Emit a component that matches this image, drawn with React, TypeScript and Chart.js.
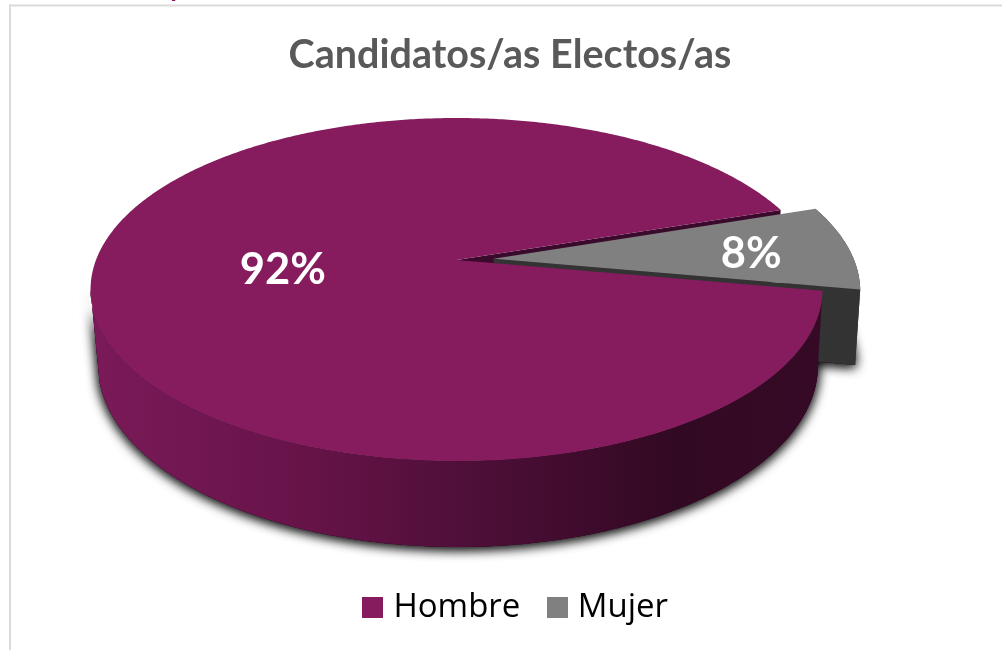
import React, { useEffect, useRef } from "react";
import { Chart, registerables } from "chart.js";

Chart.register(...registerables);

const categories = ["Hombre", "Mujer"];
const values = [92, 8];
const topColors = ["#861C5E", "#808080"];
const chartTitle = "Candidatos/as Electos/as";
const explode = [0, 23];
const labelRadius = [0.48, 0.725];

// Perspective projection of the pie's unit circle onto the picture.
const K = -0.172;
const TOP = { cx: 456.5, R: 360.5, A: 121.7, B: 260 };
const BASE = { cx: 458, R: 354.6, A: 119.2, B: 333.7 };
type Surf = typeof TOP;
const proj = (s: Surf, u: number, v: number): [number, number] => {
  const w = 1 + K * v;
  return [s.cx + (s.R * u) / w, (s.A * v + s.B) / w];
};
const DEG = Math.PI / 180;

const swatch = (color: string) => {
  const c = document.createElement("canvas");
  c.width = 21;
  c.height = 21;
  const g = c.getContext("2d")!;
  g.fillStyle = color;
  g.fillRect(0, 0, 21, 21);
  return c;
};

const ringPts = (s: Surf, a0: number, a1: number, ou: number, ov: number) => {
  const n = Math.max(2, Math.ceil(Math.abs(a1 - a0) / 0.01));
  const pts: [number, number][] = [];
  for (let i = 0; i <= n; i++) {
    const t = a0 + ((a1 - a0) * i) / n;
    pts.push(proj(s, Math.cos(t) + ou, Math.sin(t) + ov));
  }
  return pts;
};
const poly = (ctx: CanvasRenderingContext2D, pts: [number, number][]) => {
  ctx.beginPath();
  pts.forEach((p, i) => (i ? ctx.lineTo(p[0], p[1]) : ctx.moveTo(p[0], p[1])));
  ctx.closePath();
};

const pie3d = {
  id: "pie3d",
  beforeDraw(chart: any) {
    const ctx = chart.ctx;
    ctx.save();
    ctx.fillStyle = "#fff";
    ctx.fillRect(0, 0, chart.width, chart.height);
    ctx.fillStyle = "#DADADA";
    ctx.fillRect(9, 4.5, chart.width, 2);
    ctx.fillRect(9, 4.5, 2, chart.height);
    ctx.fillStyle = "#861C5E";
    ctx.font = "bold 27px Lato";
    ctx.textAlign = "center";
    ctx.textBaseline = "alphabetic";
    ctx.fillText("p", 178, -3);
    ctx.restore();
  },
  afterLayout(chart: any) {
    chart.legend.left += 8.5;
    chart.legend.right += 8.5;
  },
  beforeDatasetsDraw(chart: any) {
    const ctx: CanvasRenderingContext2D = chart.ctx;
    const arcs = chart.getDatasetMeta(0).data;
    const [h, m] = arcs;
    const mid = (m.startAngle + m.endAngle) / 2;
    const off = m.options.offset / m.outerRadius;
    const ou = off * Math.cos(mid);
    const ov = off * Math.sin(mid);

    const hTop = [[...proj(TOP, 0, 0)] as [number, number], ...ringPts(TOP, h.startAngle, h.endAngle, 0, 0)];
    const mTop = [[...proj(TOP, ou, ov)] as [number, number], ...ringPts(TOP, m.startAngle, m.endAngle, ou, ov)];
    const mBase = [[...proj(BASE, ou, ov)] as [number, number], ...ringPts(BASE, m.startAngle, m.endAngle, ou, ov)];
    // the wall's outline: the top rim to its left-most point, the base rim from its tangent point
    const wall = [...ringPts(TOP, h.startAngle, 170 * DEG, 0, 0), ...ringPts(BASE, 165 * DEG, h.startAngle, 0, 0)];

    ctx.save();
    // soft shadow under the base
    ctx.shadowColor = "rgba(0,0,0,0.8)";
    ctx.shadowBlur = 12;
    ctx.shadowOffsetY = 2;
    ctx.fillStyle = "#3a0a2c";
    for (let i = 0; i < 2; i++) {
      poly(ctx, wall);
      ctx.fill();
      poly(ctx, mBase);
      ctx.fill();
    }
    ctx.shadowColor = "transparent";
    ctx.shadowBlur = 0;
    ctx.shadowOffsetY = 0;

    // upper cut face of the large slice
    ctx.fillStyle = "#3A0A2C";
    poly(ctx, [proj(TOP, 0, 0), proj(TOP, Math.cos(h.endAngle), Math.sin(h.endAngle)), proj(BASE, Math.cos(h.endAngle), Math.sin(h.endAngle)), proj(BASE, 0, 0)]);
    ctx.fill();

    // exploded slice
    const dark = "#333333";
    ctx.fillStyle = dark;
    const e = m.endAngle;
    poly(ctx, [proj(TOP, ou, ov), proj(TOP, Math.cos(e) + ou, Math.sin(e) + ov), proj(BASE, Math.cos(e) + ou, Math.sin(e) + ov), proj(BASE, ou, ov)]);
    ctx.fill();
    poly(ctx, [...ringPts(TOP, m.startAngle, m.endAngle, ou, ov), ...ringPts(BASE, m.endAngle, m.startAngle, ou, ov)]);
    ctx.fill();
    ctx.fillStyle = m.options.backgroundColor;
    poly(ctx, mTop);
    ctx.fill();

    // front wall of the large slice
    const g = ctx.createLinearGradient(95, 0, 820, 0);
    g.addColorStop(0, "#7A1A58");
    g.addColorStop(0.3, "#661348");
    g.addColorStop(0.5, "#500F3A");
    g.addColorStop(0.8, "#320922");
    g.addColorStop(1, "#360A26");
    ctx.fillStyle = g;
    poly(ctx, wall);
    ctx.fill();

    ctx.fillStyle = h.options.backgroundColor;
    poly(ctx, hTop);
    ctx.fill();
    ctx.restore();
    return false;
  },
  afterDraw(chart: any) {
    const ctx: CanvasRenderingContext2D = chart.ctx;
    const arcs = chart.getDatasetMeta(0).data;
    const total = values.reduce((a, b) => a + b, 0);
    ctx.save();
    ctx.fillStyle = "#fff";
    ctx.font = "bold 43.5px Lato";
    ctx.textAlign = "center";
    ctx.textBaseline = "middle";
    arcs.forEach((a: any, i: number) => {
      const mid = (a.startAngle + a.endAngle) / 2;
      const off = a.options.offset / a.outerRadius;
      const r = labelRadius[i] + off;
      const [x, y] = proj(TOP, r * Math.cos(mid), r * Math.sin(mid));
      ctx.fillText(`${Math.round((values[i] / total) * 100)}%`, x, y + 4);
    });
    ctx.restore();
  },
};

export default function App() {
  const ref = useRef<HTMLCanvasElement>(null);
  useEffect(() => {
    const chart = new Chart(ref.current!, {
      type: "pie",
      data: {
        labels: categories,
        datasets: [
          {
            data: values,
            backgroundColor: topColors,
            borderWidth: 0,
            offset: explode,
          },
        ],
      },
      options: {
        responsive: false,
        animation: false,
        rotation: 100.3,
        layout: { padding: { left: 18, right: 0, top: 0, bottom: 16 } },
        plugins: {
          tooltip: { enabled: false },
          title: {
            display: true,
            text: chartTitle,
            color: "#595959",
            font: { family: "Lato", size: 39.5, weight: "bold" },
            padding: { top: 32, bottom: 10 },
          },
          legend: {
            position: "bottom",
            labels: {
              color: "#1A1A1A",
              font: { family: "'Open Sans'", size: 33 },
              usePointStyle: true,
              pointStyleWidth: 8,
              padding: 33,
              generateLabels: () =>
                categories.map((text, i) => ({
                  text,
                  fillStyle: topColors[i],
                  strokeStyle: topColors[i],
                  lineWidth: 0,
                  pointStyle: swatch(topColors[i]),
                  index: i,
                  hidden: false,
                })),
            },
          },
        },
      } as any,
      plugins: [pie3d as any],
    });
    return () => chart.destroy();
  }, []);
  return (
    <div style={{ position: "fixed", left: 0, top: 0, width: 1002, height: 650, background: "#fff" }}>
      <canvas ref={ref} width={1002} height={650} style={{ display: "block" }} />
    </div>
  );
}
